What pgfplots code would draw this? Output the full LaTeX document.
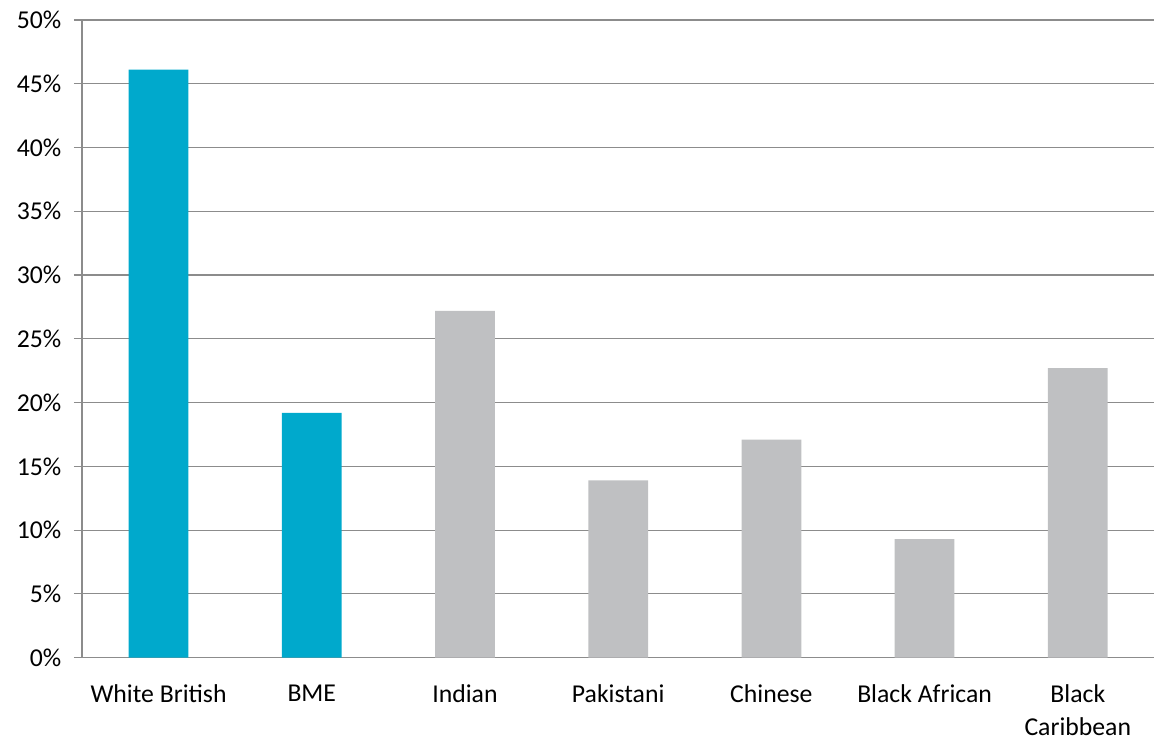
\documentclass[border=0pt]{standalone}
\usepackage{pgfplots}
\pgfplotsset{compat=1.18}
\usepackage{fontspec}
\setmainfont{Carlito}
\definecolor{barblue}{HTML}{00A9CC}
\definecolor{bargray}{HTML}{BFC0C2}
\definecolor{gridgray}{HTML}{8C8C8C}
\begin{document}
\begin{tikzpicture}
\begin{axis}[
  scale only axis,
  width=804.75pt, height=478.5pt,
  xmin=-0.5, xmax=6.5,
  ymin=0, ymax=50,
  axis x line*=bottom, axis y line*=left,
  axis line style={gridgray, line width=0.9pt, -},
  ytick={0,5,...,50},
  yticklabels={0\%,5\%,10\%,15\%,20\%,25\%,30\%,35\%,40\%,45\%,50\%},
  yticklabel style={xshift=-6pt},
  ymajorgrids, grid style={gridgray, line width=0.9pt},
  xtick={0,...,6},
  xticklabels={White British,BME,Indian,Pakistani,Chinese,Black African,Black\\Caribbean},
  xticklabel style={align=center, text depth=0pt, yshift=-11pt},
  x tick style={draw=none},
  minor xtick={-0.5,0.5,...,6.5},
  minor x tick style={gridgray, line width=0.9pt},
  y tick style={gridgray, line width=0.9pt},
  tick align=outside,
  major tick length=6pt, minor tick length=5pt,
  tick label style={font=\fontsize{19.3}{24.5}\selectfont, black},
  /pgf/number format/assume math mode=true,
  ybar, bar width=0.39, bar shift=0pt,
  clip=false,
]
\addplot[fill=barblue, draw=none] coordinates {(0,46.1) (1,19.2)};
\addplot[fill=bargray, draw=none] coordinates {(2,27.2) (3,13.9) (4,17.1) (5,9.3) (6,22.7)};
\end{axis}
\path (current axis.south west) ++(-61.5pt,-66pt) coordinate (bl);
\path (current axis.north east) ++(0pt,15pt) coordinate (tr);
\useasboundingbox (bl) rectangle (tr);
\end{tikzpicture}
\end{document}
